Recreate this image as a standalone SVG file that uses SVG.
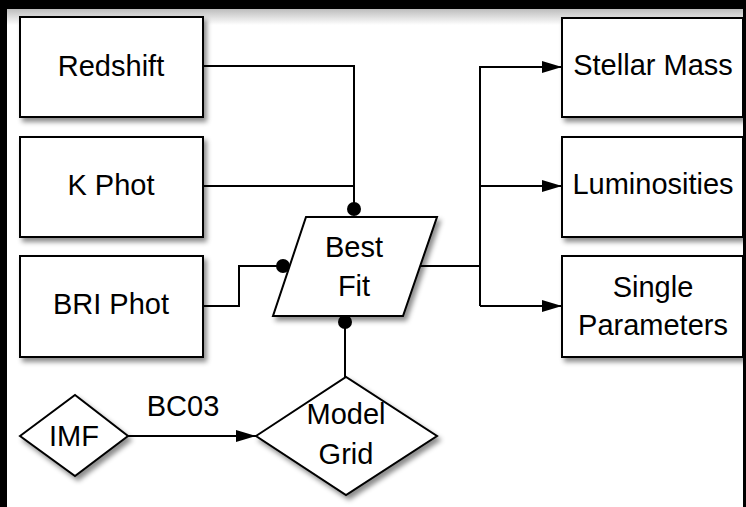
<svg xmlns="http://www.w3.org/2000/svg" width="746" height="507" viewBox="0 0 746 507">
<defs>
<style>
.node{fill:#fff;stroke:#000;stroke-width:2;filter:url(#sh)}
.lbl{font-family:"Liberation Sans",Arial,sans-serif;font-size:29px;fill:#000;text-anchor:middle}
.wire{fill:none;stroke:#000;stroke-width:2}
</style>
<filter id="sh" x="-20%" y="-20%" width="150%" height="150%">
<feDropShadow dx="3" dy="4" stdDeviation="2.5" flood-color="#000" flood-opacity="0.45"/>
</filter>
<linearGradient id="topg" x1="0" y1="0" x2="0" y2="1">
<stop offset="0" stop-color="#bdbdbd"/>
<stop offset="1" stop-color="#fff"/>
</linearGradient>
<marker id="arr" markerWidth="20" markerHeight="12" refX="20" refY="6" orient="auto" markerUnits="userSpaceOnUse">
<path d="M0,0 L20,6 L0,12 Z" fill="#000"/>
</marker>
</defs>
<rect x="0" y="0" width="746" height="507" fill="#000"/>
<rect x="7" y="9" width="736" height="498" fill="#fff"/>
<rect x="7" y="9" width="736" height="16" fill="url(#topg)"/>

<g id="connectors">
<polyline class="wire" points="203,66 354,66 354,209"/>
<polyline class="wire" points="203,186 354,186"/>
<polyline class="wire" points="203,306 239,306 239,266 283,266"/>
<line class="wire" x1="345" y1="322" x2="345" y2="377"/>
<polyline class="wire" points="420,266 480,266"/>
<polyline class="wire" points="480,306 480,67 562,67" marker-end="url(#arr)"/>
<line class="wire" x1="480" y1="186" x2="562" y2="186" marker-end="url(#arr)"/>
<line class="wire" x1="480" y1="306" x2="562" y2="306" marker-end="url(#arr)"/>
<line class="wire" x1="128" y1="436" x2="256" y2="436" marker-end="url(#arr)"/>
<text class="lbl" x="183" y="416">BC03</text>
<circle cx="354" cy="209" r="7" fill="#000"/>
<circle cx="283" cy="266" r="7" fill="#000"/>
<circle cx="345" cy="322" r="7" fill="#000"/>
</g>

<g id="redshift">
<rect class="node" x="20" y="17" width="183" height="100"/>
<text class="lbl" x="111" y="76">Redshift</text>
</g>
<g id="kphot">
<rect class="node" x="20" y="137" width="183" height="100"/>
<text class="lbl" x="111" y="195">K Phot</text>
</g>
<g id="briphot">
<rect class="node" x="20" y="256" width="183" height="101"/>
<text class="lbl" x="111" y="314">BRI Phot</text>
</g>
<g id="bestfit">
<polygon class="node" points="306,217 437,217 403,316 273,316"/>
<text class="lbl" x="354" y="257">Best</text>
<text class="lbl" x="354" y="296">Fit</text>
</g>
<g id="stellarmass">
<rect class="node" x="562" y="18" width="181" height="99"/>
<text class="lbl" x="653" y="75">Stellar Mass</text>
</g>
<g id="luminosities">
<rect class="node" x="562" y="137" width="181" height="100"/>
<text class="lbl" x="653" y="194">Luminosities</text>
</g>
<g id="singleparams">
<rect class="node" x="562" y="256" width="181" height="101"/>
<text class="lbl" x="653" y="297">Single</text>
<text class="lbl" x="653" y="335">Parameters</text>
</g>
<g id="imf">
<polygon class="node" points="20,436 75,395 128,436 75,476"/>
<text class="lbl" x="74" y="446">IMF</text>
</g>
<g id="modelgrid">
<polygon class="node" points="256,436 346,377 437,436 346,495"/>
<text class="lbl" x="346" y="424">Model</text>
<text class="lbl" x="346" y="464">Grid</text>
</g>
<rect x="743" y="0" width="3" height="507" fill="#000"/>
</svg>
